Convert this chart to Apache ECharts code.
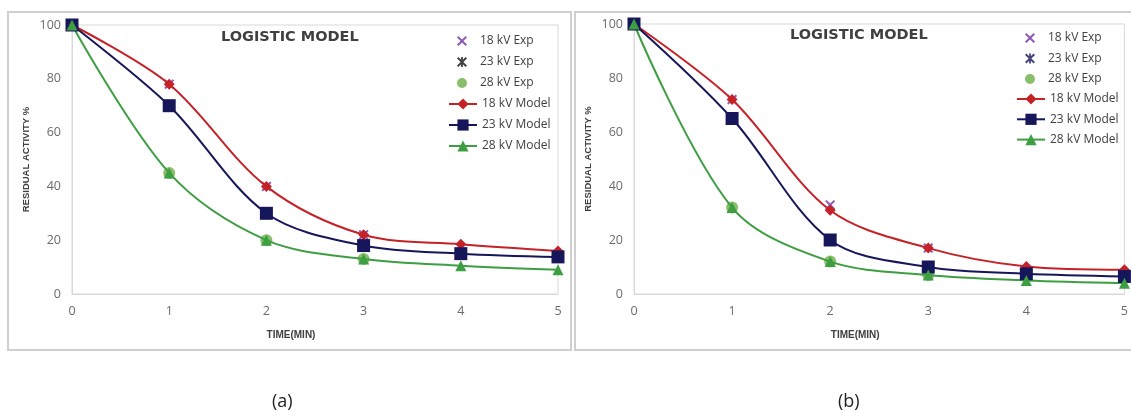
<!DOCTYPE html>
<html><head><meta charset="utf-8">
<script src="https://cdn.jsdelivr.net/npm/echarts@6/dist/echarts.min.js"></script>
<style>html,body{margin:0;padding:0;background:#fff}#c{width:1131px;height:412px}</style>
</head><body><div id="c"></div>
<script>
const times = [0, 1, 2, 3, 4, 5];
const expTimes = [0, 1, 2, 3];
const yTicks = [0, 20, 40, 60, 80, 100];

// Panel (a)
const a_exp18 = [100, 78, 40, 22];
const a_exp23 = [100, 70, 30, 18];
const a_exp28 = [100, 45, 20, 13];
const a_mod18 = [100, 78, 40, 22, 18.5, 16];
const a_mod23 = [100, 70, 30, 18, 15, 13.8];
const a_mod28 = [100, 45, 20, 13, 10.5, 9];

// Panel (b)
const b_exp18 = [100, 72, 33, 17];
const b_exp23 = [100, 65, 20, 10];
const b_exp28 = [100, 32, 12, 7];
const b_mod18 = [100, 72, 31, 17, 10.2, 9];
const b_mod23 = [100, 65, 20, 10, 7.5, 6.5];
const b_mod28 = [100, 32, 12, 7, 5, 4];

const titleText = 'LOGISTIC MODEL';
const xName = 'TIME(MIN)';
const yName = 'RESIDUAL ACTIVITY %';
const captions = ['(a)', '(b)'];
const expNames = ['18 kV Exp', '23 kV Exp', '28 kV Exp'];
const modNames = ['18 kV Model', '23 kV Model', '28 kV Model'];

const RED = '#C52228', NAVY = '#16165A', GREEN = '#3E9E42', GREEN_DOT = '#6CAF45', PURPLE = '#7030A0';
const XSYM = 'path://M1.4,0L5,3.6L8.6,0L10,1.4L6.4,5L10,8.6L8.6,10L5,6.4L1.4,10L0,8.6L3.6,5L0,1.4Z';
const STAR = 'path://M1.4,0L5,3.6L8.6,0L10,1.4L6.4,5L10,8.6L8.6,10L5,6.4L1.4,10L0,8.6L3.6,5L0,1.4Z M4.1,0L5.9,0L5.9,10L4.1,10Z';
const SMOOTH = 0.33;

function pairs(xs, ys) { return ys.map((v, i) => [xs[i], v]); }

function panelSeries(gi, e18, e23, e28, m18, m23, m28, starColor) {
  return [
    {name: expNames[0], type: 'scatter', xAxisIndex: gi, yAxisIndex: gi, data: pairs(expTimes, e18),
     symbol: XSYM, symbolSize: 10, itemStyle: {color: PURPLE}, clip: false, z: 2},
    {name: expNames[1], type: 'scatter', xAxisIndex: gi, yAxisIndex: gi, data: pairs(expTimes, e23),
     symbol: STAR, symbolSize: 10, itemStyle: {color: starColor}, clip: false, z: 2},
    {name: expNames[2], type: 'scatter', xAxisIndex: gi, yAxisIndex: gi, data: pairs(expTimes, e28),
     symbol: 'circle', symbolSize: 12, itemStyle: {color: GREEN_DOT}, clip: false, z: 2},
    {name: modNames[0], type: 'line', xAxisIndex: gi, yAxisIndex: gi, data: pairs(times, m18), smooth: SMOOTH,
     symbol: 'diamond', symbolSize: 11, showAllSymbol: true, lineStyle: {color: RED, width: 2},
     itemStyle: {color: RED}, clip: false, z: 3},
    {name: modNames[1], type: 'line', xAxisIndex: gi, yAxisIndex: gi, data: pairs(times, m23), smooth: SMOOTH,
     symbol: 'rect', symbolSize: 13, showAllSymbol: true, lineStyle: {color: NAVY, width: 2},
     itemStyle: {color: NAVY}, clip: false, z: 3},
    {name: modNames[2], type: 'line', xAxisIndex: gi, yAxisIndex: gi, data: pairs(times, m28), smooth: SMOOTH,
     symbol: 'triangle', symbolSize: 11, showAllSymbol: true, lineStyle: {color: GREEN, width: 2},
     itemStyle: {color: GREEN}, clip: false, z: 3}
  ];
}

const FONT = '"Liberation Sans", "Noto Sans", sans-serif';
const AXC = '#D9D9D9';
const LBL = {fontFamily: '"Open Sans", "Noto Sans", sans-serif', fontSize: 12.5, color: '#6B6B6B'};

function xAxisOf(gi) {
  return {gridIndex: gi, type: 'value', min: 0, max: 5, interval: 1,
    name: xName, nameLocation: 'middle', nameGap: 36,
    nameTextStyle: {fontFamily: FONT, fontWeight: 'bold', fontSize: 10, color: '#404040', padding: [0, 48, 0, 0]},
    axisLine: {show: true, lineStyle: {color: AXC, width: 1}},
    axisTick: {show: false},
    splitLine: {show: false},
    axisLabel: Object.assign({margin: 11}, LBL)};
}
function yAxisOf(gi) {
  return {gridIndex: gi, type: 'value', min: 0, max: 100, interval: 20,
    name: yName, nameLocation: 'middle', nameGap: 41, nameRotate: 90,
    nameTextStyle: {fontFamily: FONT, fontWeight: 'bold', fontSize: 9.5, color: '#404040'},
    axisLine: {show: true, lineStyle: {color: AXC, width: 1}},
    axisTick: {show: false},
    splitLine: {show: false},
    axisLabel: Object.assign({margin: 11, formatter: v => yTicks.includes(v) ? String(v) : ''}, LBL)};
}

function legendsOf(left, topExp, gapExp, topMod, gapMod, starColor) {
  const ts = {fontFamily: '"Open Sans", "Noto Sans", sans-serif', fontSize: 12, color: '#404040'};
  return [
    {orient: 'vertical', left: left + 9, top: topExp, itemWidth: 10, itemHeight: 10, itemGap: gapExp,
     selectedMode: false, textStyle: Object.assign({padding: [0, 0, 0, 8]}, ts),
     data: [{name: expNames[0], icon: XSYM, itemStyle: {color: PURPLE}},
            {name: expNames[1], icon: STAR, itemStyle: {color: starColor}},
            {name: expNames[2], icon: 'circle', itemStyle: {color: GREEN_DOT}}]},
    {orient: 'vertical', left: left, top: topMod, itemWidth: 28, itemHeight: 14, itemGap: gapMod,
     selectedMode: false, textStyle: ts,
     data: modNames}
  ];
}

const TSTYLE = {fontFamily: '"DejaVu Sans", sans-serif', fontWeight: 'bold', fontSize: 14.5, color: '#404040'};
const option = {
  animation: false,
  backgroundColor: '#fff',
  title: [
    {text: titleText, left: 216, top: 25, textStyle: TSTYLE},
    {text: titleText, left: 785, top: 23, textStyle: TSTYLE},
    {text: captions[0], left: 267, top: 388, textStyle: {fontFamily: '"Open Sans", sans-serif', fontWeight: 'normal', fontSize: 18, color: '#222'}},
    {text: captions[1], left: 833, top: 388, textStyle: {fontFamily: '"Open Sans", sans-serif', fontWeight: 'normal', fontSize: 18, color: '#222'}}
  ],
  legend: [].concat(legendsOf(443, 30, 9, 93, 9, '#111111'), legendsOf(1011, 27, 8.5, 88, 8.3, NAVY)),
  grid: [
    {left: 72, right: 1131 - 558, top: 25, bottom: 412 - 294, show: true, borderColor: AXC, borderWidth: 1},
    {left: 634, right: 6, top: 24, bottom: 412 - 294, show: true, borderColor: AXC, borderWidth: 1}
  ],
  xAxis: [xAxisOf(0), xAxisOf(1)],
  yAxis: [yAxisOf(0), yAxisOf(1)],
  graphic: [
    {type: 'rect', shape: {x: 8, y: 12, width: 563, height: 338}, style: {fill: 'none', stroke: '#CFCFCF', lineWidth: 2}, silent: true, z: -1},
    {type: 'rect', shape: {x: 575, y: 12, width: 570, height: 338}, style: {fill: 'none', stroke: '#CFCFCF', lineWidth: 2}, silent: true, z: -1}
  ],
  series: [].concat(
    panelSeries(0, a_exp18, a_exp23, a_exp28, a_mod18, a_mod23, a_mod28, '#111111'),
    panelSeries(1, b_exp18, b_exp23, b_exp28, b_mod18, b_mod23, b_mod28, NAVY)
  )
};
const chart = echarts.init(document.getElementById('c'), null, {renderer: 'canvas'});
chart.setOption(option);
</script></body></html>
